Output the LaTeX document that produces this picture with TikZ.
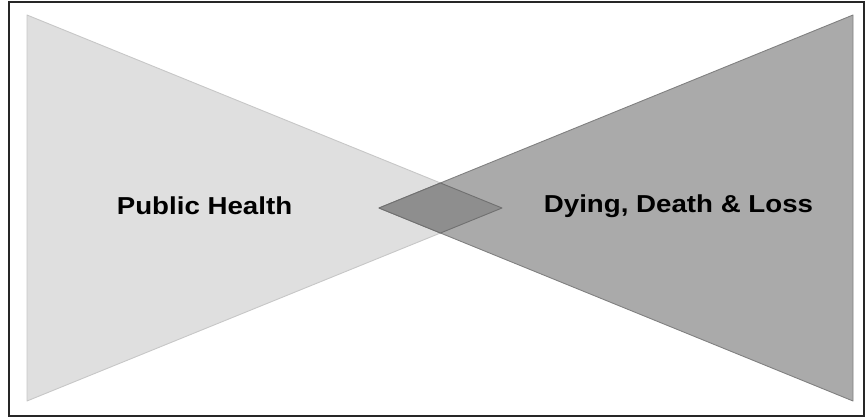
\documentclass[tikz,border=0pt]{standalone}
\usepackage{fontspec}
\setmainfont{Liberation Sans}
\definecolor{healthfill}{gray}{0.875}
\definecolor{healthedge}{gray}{0.78}
\definecolor{lossfill}{gray}{0.665}
\definecolor{lossedge}{gray}{0.50}
\definecolor{overlapfill}{gray}{0.555}
\definecolor{overlapedge}{gray}{0.44}

\begin{document}
\begin{tikzpicture}[x=1pt, y=-1pt,
  label/.style={font=\fontsize{24.5}{29}\selectfont\bfseries, xscale=1.13, inner sep=0pt}]
  \useasboundingbox (0,0) rectangle (865,417);
  % frame
  \draw[line width=1.4pt, black!85] (9,2) rectangle (864,416);
  % corners of the two triangles
  \coordinate (ht) at (27,15);
  \coordinate (hb) at (27,401);
  \coordinate (hp) at (502,208);
  \coordinate (lt) at (853,15);
  \coordinate (lb) at (853,401);
  \coordinate (lp) at (379,208);
  \coordinate (ot) at (intersection of ht--hp and lt--lp);
  \coordinate (ob) at (intersection of hb--hp and lb--lp);
  % public health side
  \filldraw[fill=healthfill, draw=healthedge, line width=0.9pt, line join=round] (ht) -- (hp) -- (hb) -- cycle;
  % dying, death and loss side
  \filldraw[fill=lossfill, draw=lossedge, line width=0.9pt, line join=round] (lt) -- (lp) -- (lb) -- cycle;
  % overlap
  \filldraw[fill=overlapfill, draw=overlapedge, line width=0.9pt, line join=round] (lp) -- (ot) -- (hp) -- (ob) -- cycle;
  \node[label] (health) at (204.5,206) {Public Health};
  \node[label] (loss) at (678.5,206) {Dying, Death \& Loss};
\end{tikzpicture}
\end{document}
